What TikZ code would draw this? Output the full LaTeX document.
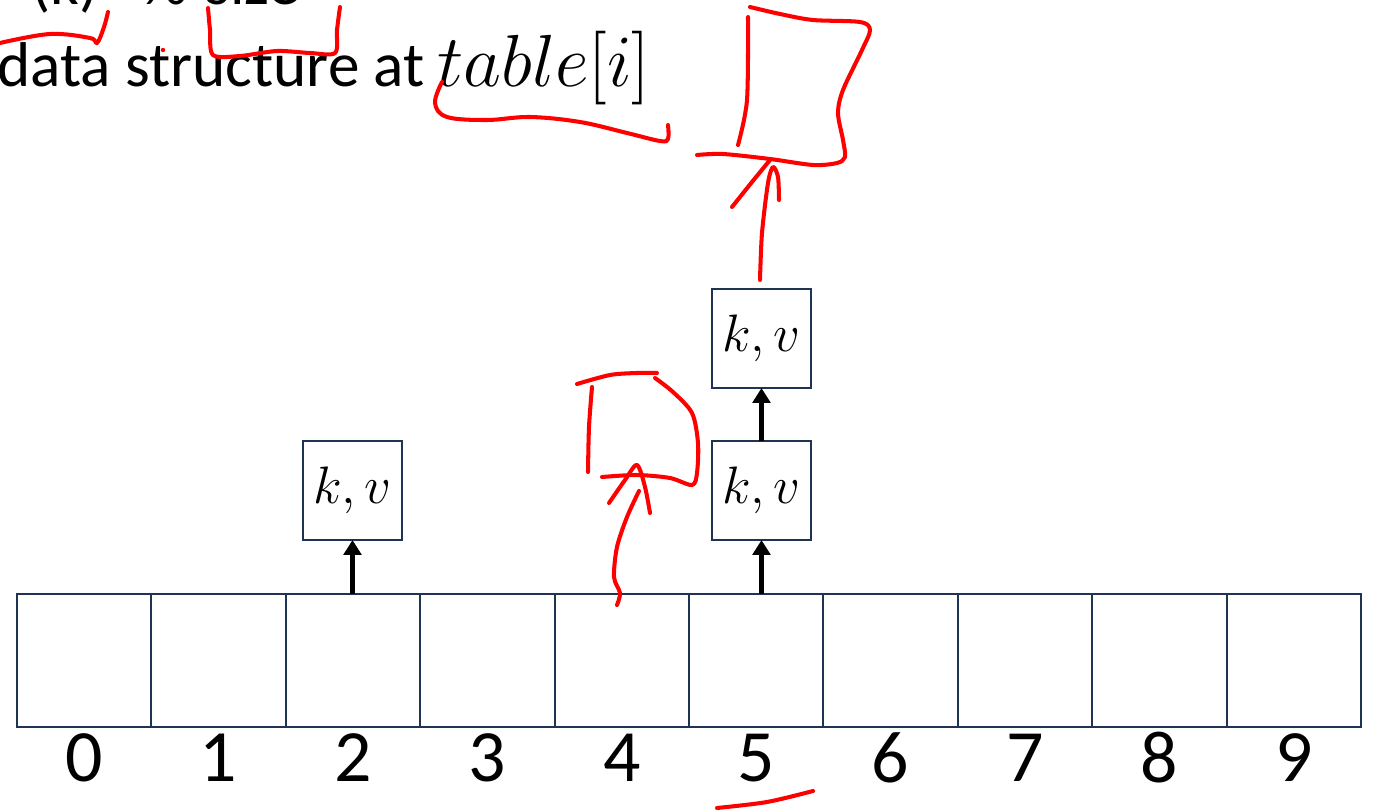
\RequirePackage{fix-cm}
\documentclass[tikz,border=0pt]{standalone}
\usepackage{fontspec}
\setmainfont{Carlito}
\usetikzlibrary{arrows.meta}
\definecolor{navy}{HTML}{1F3354}
\definecolor{ink}{HTML}{FF0000}
\begin{document}
\begin{tikzpicture}[x=0.02cm,y=-0.02cm,
  cell/.style={draw=navy,line width=1.1pt,minimum width=2.688cm,minimum height=2.66cm,inner sep=0pt,outer sep=0pt},
  kv/.style={draw=navy,line width=1.1pt,minimum size=1.98cm,inner sep=0pt,outer sep=0pt,font=\fontsize{30}{34}\selectfont},
  idx/.style={font=\fontsize{42}{48}\selectfont,inner sep=0pt},
  ptr/.style={line width=2.3pt,-{Triangle[width=10pt,length=8.5pt]}},
  pen/.style={draw=ink,line width=2.3pt,line cap=round,line join=round},
  txt/.style={inner sep=0pt,anchor=base west,font=\fontsize{36}{42}\selectfont}]
\useasboundingbox (0,0) rectangle (1373,811);
\clip (0,0) rectangle (1373,811);
% cropped top line
\node[txt] (tk) at (31,5) {(k)};
\node[txt] (tp) at (142,5) {\%};
\node[txt] (ts) at (205,5) {size};
% second line
\node[txt] (t1) at (-3,87) {data structure at};
\node[txt,font=\fontsize{42}{48}\selectfont] (t2) at (437,87) {$table[i]$};
% array
\foreach \i in {0,...,9} {
  \node[cell] (c\i) at ({17+134.4*(\i+0.5)},660.5) {};
  \node[idx] (d\i) at ({17+134.4*(\i+0.5)},758) {\i};
}
% key-value boxes
\node[kv] (b2) at (352.5,490.5) {$k,v$};
\node[kv] (b5a) at (761.5,490.5) {$k,v$};
\node[kv] (b5b) at (761.5,338.5) {$k,v$};
\draw[ptr] (b2.south |- c2.north) -- (b2.south);
\draw[ptr] (b5a.south |- c5.north) -- (b5a.south);
\draw[ptr] (b5a.north) -- (b5b.south);
% red annotations
\draw[pen] plot[smooth,tension=0.6] coordinates {(0,43) (50,34) (90,38) (97,43) (104,27) (108,12)};
\draw[pen] plot[smooth,tension=0.5] coordinates {(208,8) (210,30) (213,55) (240,56) (277,51) (310,53) (335,53) (337,30) (340,7)};
\fill[ink] (163,50) circle (2.2);
\draw[pen] plot[smooth,tension=0.6] coordinates {(442,82) (435,103) (447,117) (487,120) (530,117) (580,122) (627,133) (660,141) (668,139) (668,125)};
% upper-right box sketch
\draw[pen] plot[smooth,tension=0.5] coordinates {(750,7) (780,14) (813,20) (860,22) (870,30) (862,50) (843,90) (838,113) (843,140) (845,157) (837,163) (813,165) (770,159) (723,154) (697,155)};
\draw[pen] plot[smooth,tension=0.5] coordinates {(748,17) (747,100) (738,145)};
\draw[pen] plot[smooth,tension=0.5] coordinates {(760,280) (762,233) (768,183) (773,167) (778,177) (779,200)};
\draw[pen] plot[smooth,tension=0.5] coordinates {(732,207) (752,182) (770,160)};
% middle sketch
\draw[pen] plot[smooth,tension=0.5] coordinates {(577,384) (610,375) (637,373) (657,373)};
\draw[pen] plot[smooth,tension=0.5] coordinates {(655,378) (673,392) (692,413) (698,443) (697,473) (692,485) (670,478) (637,475) (602,477)};
\draw[pen] plot[smooth,tension=0.5] coordinates {(592,387) (589,427) (588,472)};
\draw[pen] plot[smooth,tension=0.5] coordinates {(609,503) (625,480) (637,465) (645,487) (650,513)};
\draw[pen] plot[smooth,tension=0.5] coordinates {(639,491) (627,517) (617,547) (614,577) (620,593) (617,605)};
% under 5
\draw[pen] plot[smooth,tension=0.5] coordinates {(717,808) (767,802) (813,791)};
\end{tikzpicture}
\end{document}
